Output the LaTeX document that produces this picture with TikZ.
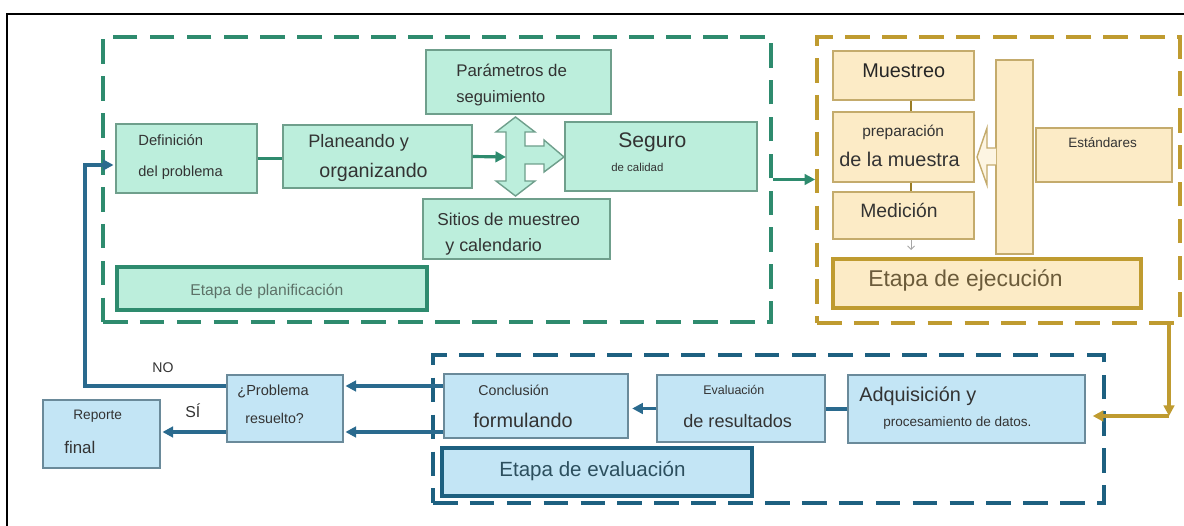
\documentclass[tikz,border=0pt]{standalone}
\usepackage{fontspec}
\setmainfont{Liberation Sans}
\usetikzlibrary{arrows.meta,fit}
\definecolor{gdash}{HTML}{2E8B6E}
\definecolor{gfill}{HTML}{BCEEDC}
\definecolor{gborder}{HTML}{6F9F8C}
\definecolor{ydash}{HTML}{BF9B30}
\definecolor{yfill}{HTML}{FCEBC6}
\definecolor{yborder}{HTML}{C4AB6C}
\definecolor{yarrow}{HTML}{FDF5E2}
\definecolor{bdash}{HTML}{1D6080}
\definecolor{bfill}{HTML}{C3E5F5}
\definecolor{bborder}{HTML}{6A8A9A}
\definecolor{bconn}{HTML}{2A6A8E}
\definecolor{txt}{HTML}{333333}
\definecolor{gtxt}{HTML}{5D7268}
\definecolor{ytxt}{HTML}{6B5B3A}
\definecolor{btxt}{HTML}{2C4F5E}
\newcommand\fsz[1]{\fontsize{#1}{#1}\selectfont}
\tikzset{
  frame/.style={draw, fill=none, inner sep=0pt, line width=2.1pt, dash pattern=on 14pt off 7pt},
  gframe/.style={frame, draw=gdash},
  yframe/.style={frame, draw=ydash},
  bframe/.style={frame, draw=bdash},
  gbox/.style={draw=gborder, fill=gfill, line width=0.8pt, inner sep=0pt},
  ybox/.style={draw=yborder, fill=yfill, line width=0.8pt, inner sep=0pt},
  bbox/.style={draw=bborder, fill=bfill, line width=0.8pt, inner sep=0pt},
  gstagebox/.style={gbox, draw=gdash, line width=2.3pt},
  ystagebox/.style={ybox, draw=ydash, line width=2.3pt},
  bstagebox/.style={bbox, draw=bdash, line width=2.3pt},
  tx/.style={anchor=base west, inner sep=0pt, text=txt},
  tip/.style={-{Triangle[length=6pt,width=6pt]}},
  gconn/.style={draw=gdash, line width=1.8pt},
  yconn/.style={draw=ydash, line width=1.8pt},
  bline/.style={draw=bconn, line width=1.8pt},
}
\begin{document}
\begin{tikzpicture}[x=0.02cm,y=-0.02cm]
\useasboundingbox (0,0) rectangle (1184,526);
% outer frame
\draw[black, line width=0.9pt] (7,526) -- (7,14) -- (1184,14);
% stage frames
\node[gframe, fit={(103,37) (771,322)}] (gfr) {};
\node[yframe, fit={(817,37) (1180,323)}] (yfr) {};
\node[bframe, fit={(433,355) (1104,503)}] (bfr) {};
% planning stage
\node[gbox, fit={(116,124) (257,193)}] (def) {};
\node[gbox, fit={(283,125) (472,188)}] (plan) {};
\node[gbox, fit={(426,50) (611,114)}] (param) {};
\node[gbox, fit={(423,199) (610,259)}] (sitios) {};
\node[gbox, fit={(565,122) (757,191)}] (seg) {};
\node[gstagebox, fit={(117,267) (427,310)}] (gstage) {};
\draw[gbox] (515.5,117) -- (535,132) -- (525,132) -- (525,146) -- (544,146) -- (544,140) -- (564,157) -- (544,172) -- (544,164) -- (525,164) -- (525,181) -- (535,181) -- (515.5,196) -- (496,181) -- (506,181) -- (506,132) -- (496,132) -- cycle;
\coordinate (crossW) at (506,157);
\node[tx, font=\fsz{8.4}] (t1) at (138,146) {Definición};
\node[tx, font=\fsz{8.3}] (t2) at (138,177) {del problema};
\node[tx, font=\fsz{10.3}] (t3) at (308,148) {Planeando y};
\node[tx, font=\fsz{11.2}] (t4) at (319,178) {organizando};
\node[tx, font=\fsz{9.6}] (t5) at (456,77) {Parámetros de};
\node[tx, font=\fsz{9.4}] (t6) at (456,103) {seguimiento};
\node[tx, font=\fsz{12}] (t7) at (618,148) {Seguro};
\node[tx, font=\fsz{6.5}] (t8) at (611,172) {de calidad};
\node[tx, font=\fsz{9.8}] (t9) at (437,226) {Sitios de muestreo};
\node[tx, font=\fsz{10.2}] (t10) at (445,252) {y calendario};
\node[tx, font=\fsz{8.9}, text=gtxt] (t11) at (190,296) {Etapa de planificación};
% execution stage
\node[ybox, fit={(833,51) (974,100)}] (muest) {};
\node[ybox, fit={(833,112) (974,182)}] (prep) {};
\node[ybox, fit={(833,192) (974,239)}] (med) {};
\node[ybox, fit={(996,60) (1033,254)}] (tall) {};
\node[ybox, fit={(1036,128) (1172,182)}] (estd) {};
\node[ystagebox, fit={(833,259) (1141,308)}] (ystage) {};
\draw[draw=yborder, fill=yarrow, line width=0.8pt] (996,148) -- (987,148) -- (987,128) -- (977,157) -- (987,185) -- (987,165) -- (996,165);
\node[tx, font=\fsz{11.3}, text=black!85] (t12) at (862,78) {Muestreo};
\node[tx, font=\fsz{8.8}] (t13) at (862,137) {preparación};
\node[tx, font=\fsz{11.3}] (t14) at (839,167) {de la muestra};
\node[tx, font=\fsz{11}] (t15) at (860,218) {Medición};
\node[tx, font=\fsz{7.7}] (t16) at (1068,148) {Estándares};
\node[tx, font=\fsz{13}, text=ytxt] (t17) at (868,287) {Etapa de ejecución};
\coordinate (xl) at (911,0);
\coordinate (smallend) at (911,250);
\draw[draw=ydash!80!black, line width=1.2pt] (muest.south -| xl) -- (prep.north -| xl);
\draw[draw=ydash!80!black, line width=1.2pt] (prep.south -| xl) -- (med.north -| xl);
\draw[draw=gray!70, line width=0.5pt, -{Straight Barb[length=2pt]}] (med.south -| xl) -- (smallend);
% evaluation stage
\node[bbox, fit={(444,374) (628,438)}] (concl) {};
\node[bbox, fit={(657,375) (825,442)}] (eval) {};
\node[bbox, fit={(848,375) (1085,443)}] (adq) {};
\node[bstagebox, fit={(442,448) (752,496)}] (bstage) {};
\node[tx, font=\fsz{8.1}] (t18) at (478,396) {Conclusión};
\node[tx, font=\fsz{11.3}] (t19) at (473,428) {formulando};
\node[tx, font=\fsz{7.1}] (t20) at (703,395) {Evaluación};
\node[tx, font=\fsz{10.3}] (t21) at (683,428) {de resultados};
\node[tx, font=\fsz{11.3}] (t22) at (859,402) {Adquisición y};
\node[tx, font=\fsz{7.7}] (t23) at (883,427) {procesamiento de datos.};
\node[tx, font=\fsz{11.7}, text=btxt] (t24) at (499,477) {Etapa de evaluación};
% decision and report
\node[bbox, fit={(227,375) (343,442)}] (prob) {};
\node[bbox, fit={(43,400) (160,468)}] (rep) {};
\node[tx, font=\fsz{8.3}] (t25) at (237,396) {¿Problema};
\node[tx, font=\fsz{8.1}] (t26) at (245,424) {resuelto?};
\node[tx, font=\fsz{7.8}] (t27) at (73,420) {Reporte};
\node[tx, font=\fsz{9.6}] (t28) at (64,454) {final};
\node[tx, font=\fsz{8}] (t29) at (152,373) {NO};
\node[tx, font=\fsz{9}] (t30) at (185,418) {SÍ};
% connectors
\draw[gconn] (def.east) -- (def.east -| plan.west);
\draw[gconn, tip] (plan.east) -- (crossW);
\draw[gconn, tip] (gfr.east) -- (gfr.east -| yfr.west);
\coordinate (ycorner) at (1169,416);
\draw[yconn, tip] (ycorner |- yfr.south) -- (ycorner);
\draw[yconn, tip, shorten >=4pt] (ycorner) -- (ycorner -| adq.east);
\draw[bline] (adq.west) -- (adq.west -| eval.east);
\draw[bline, tip, shorten >=2pt] (eval.west) -- (eval.west -| concl.east);
\coordinate (ya) at (0,386);
\coordinate (yb) at (0,432);
\coordinate (nocorner) at (85,165);
\draw[bline, tip, shorten >=1pt] (concl.west |- ya) -- (prob.east |- ya);
\draw[bline, tip, shorten >=1pt] (concl.west |- yb) -- (prob.east |- yb);
\draw[bline, tip, shorten >=1pt] (prob.west |- ya) -| (nocorner) -- (nocorner -| def.west);
\draw[bline, tip, shorten >=1pt] (prob.west |- yb) -- (rep.east |- yb);
\end{tikzpicture}
\end{document}
